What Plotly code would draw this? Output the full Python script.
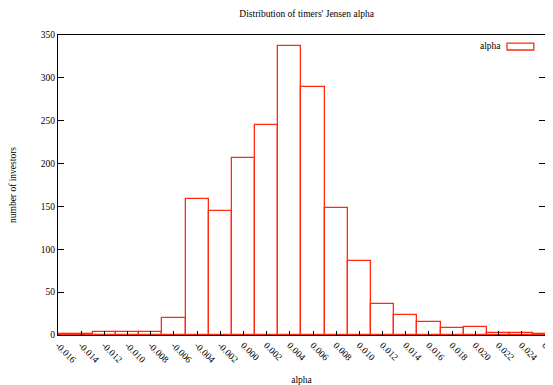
import plotly.graph_objects as go

# bin centres (alpha) and counts
alpha_bins = [-0.016, -0.014, -0.012, -0.010, -0.008, -0.006, -0.004, -0.002,
              0.000, 0.002, 0.004, 0.006, 0.008, 0.010, 0.012, 0.014,
              0.016, 0.018, 0.020, 0.022, 0.024, 0.026]
investors = [1, 1, 3, 4, 4, 20, 159, 145, 206, 245, 337, 289, 148, 86, 36, 23,
             15, 8, 9, 2, 2, 1]

x_tick_vals = [-0.016, -0.014, -0.012, -0.010, -0.008, -0.006, -0.004, -0.002,
               0.000, 0.002, 0.004, 0.006, 0.008, 0.010, 0.012, 0.014,
               0.016, 0.018, 0.020, 0.022, 0.024, 0.026]
x_tick_text = ["-0.016", "-0.014", "-0.012", "-0.010", "-0.008", "-0.006",
               "-0.004", "-0.002", "0.000", "0.002", "0.004", "0.006", "0.008",
               "0.010", "0.012", "0.014", "0.016", "0.018", "0.020", "0.022",
               "0.024", "0.026"]
y_tick_vals = [0, 50, 100, 150, 200, 250, 300, 350]

RED = "#ff2a10"
FONT = "Liberation Serif, Times New Roman, serif"

fig = go.Figure()
fig.add_trace(go.Bar(
    x=alpha_bins, y=investors, width=0.002,
    marker=dict(color="white", line=dict(color=RED, width=1.3)),
    showlegend=False,
))

fig.update_layout(
    width=545, height=377,
    margin=dict(l=50, r=8, t=27, b=50),
    paper_bgcolor="white", plot_bgcolor="white",
    font=dict(family=FONT, size=9.5, color="black"),
    title=dict(text="Distribution of timers' Jensen alpha", x=0.548, xanchor="center",
               y=0.986, yanchor="middle", font=dict(family=FONT, size=9.5)),
    bargap=0,
    xaxis=dict(
        range=[-0.016, 0.02601], tickvals=x_tick_vals, ticktext=x_tick_text,
        tickangle=45, ticks="inside", ticklen=4, tickcolor="black",
        ticklabeloverflow="allow",
        showline=True, linecolor="black", linewidth=1, mirror=True,
        showgrid=False, zeroline=False,
        title=dict(text="alpha", standoff=18, font=dict(family=FONT, size=9.5)),
        automargin=False,
    ),
    yaxis=dict(
        range=[0, 350], tickvals=y_tick_vals,
        ticks="inside", ticklen=6, tickcolor="black",
        showline=True, linecolor="black", linewidth=1, mirror="ticks",
        showgrid=False, zeroline=False,
        title=dict(text="number of investors", standoff=24, font=dict(family=FONT, size=9.5)),
        automargin=False,
    ),
    annotations=[dict(text="alpha", xref="paper", yref="paper", x=0.913, y=0.962,
                      xanchor="right", yanchor="middle", showarrow=False,
                      font=dict(family=FONT, size=9.5))],
    shapes=[dict(type="rect", xref="paper", yref="paper", x0=0.922, x1=0.977,
                 y0=0.95, y1=0.973, line=dict(color=RED, width=1.3),
                 fillcolor="white")],
)

fig.write_html("out.html")
